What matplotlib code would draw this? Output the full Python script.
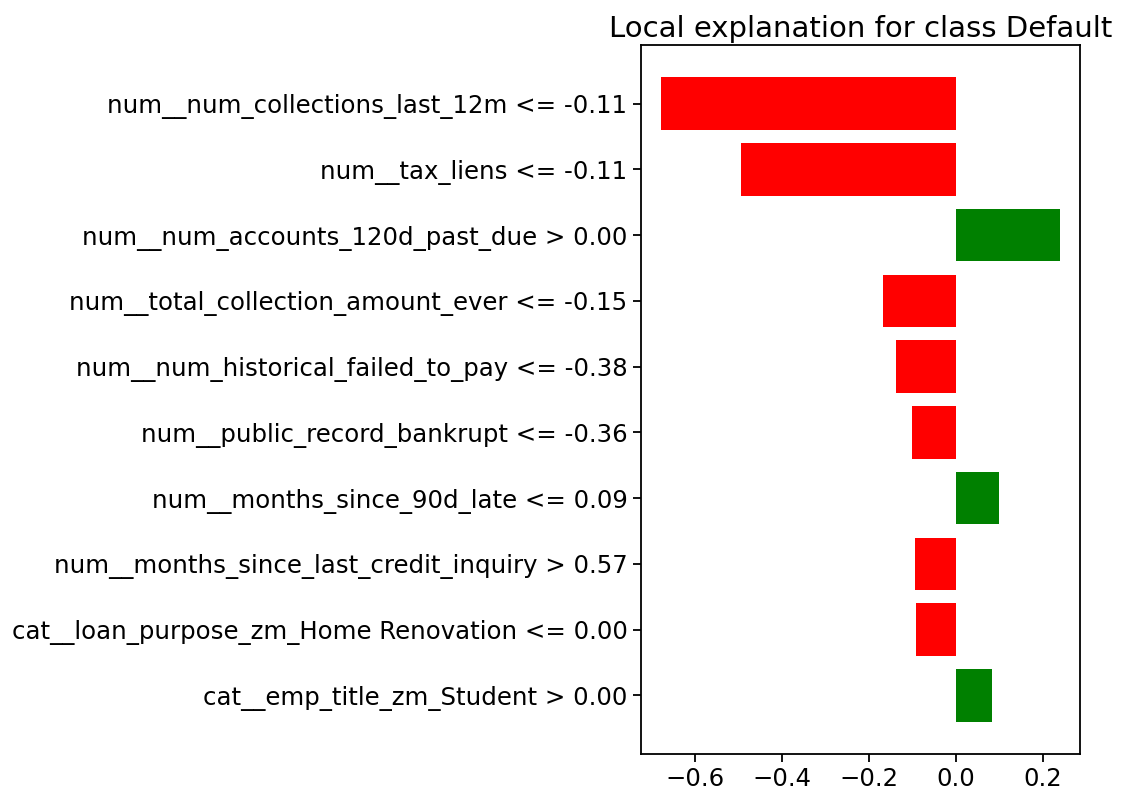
import matplotlib
matplotlib.use("Agg")
import matplotlib.pyplot as plt

# LIME local explanation, top feature first
features = [
    "num__num_collections_last_12m <= -0.11",
    "num__tax_liens <= -0.11",
    "num__num_accounts_120d_past_due > 0.00",
    "num__total_collection_amount_ever <= -0.15",
    "num__num_historical_failed_to_pay <= -0.38",
    "num__public_record_bankrupt <= -0.36",
    "num__months_since_90d_late <= 0.09",
    "num__months_since_last_credit_inquiry > 0.57",
    "cat__loan_purpose_zm_Home Renovation <= 0.00",
    "cat__emp_title_zm_Student > 0.00",
]
weights = [-0.679, -0.495, 0.240, -0.169, -0.138, -0.101, 0.099, -0.095, -0.093, 0.083]

# lime draws bottom-up
vals = weights[::-1]
names = features[::-1]
colors = ["green" if w > 0 else "red" for w in vals]
pos = list(range(len(vals)))

fig = plt.figure(figsize=(11.22, 7.97), dpi=100)
ax = fig.add_axes([0.571, 0.054, 0.392, 0.8895])
ax.barh(pos, vals, align="center", color=colors)
ax.set_yticks(pos)
ax.set_yticklabels(names, fontsize=17.6)
ax.tick_params(axis="x", labelsize=17.5)
ax.tick_params(axis="both", length=6, width=1.3)
for s in ax.spines.values():
    s.set_linewidth(1.3)
ax.set_title("Local explanation for class Default", fontsize=21)

fig.savefig("out.png", dpi=100)
